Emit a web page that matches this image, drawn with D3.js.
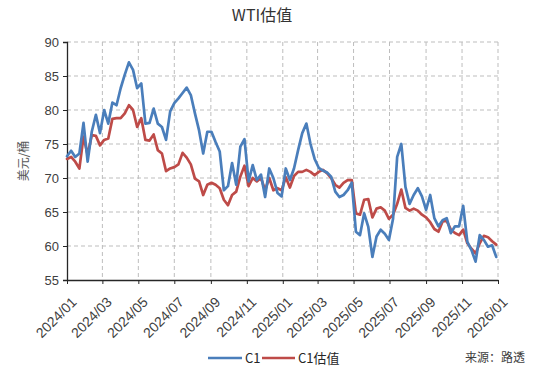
<!DOCTYPE html>
<html>
<head>
<meta charset="utf-8">
<script src="https://cdn.jsdelivr.net/npm/d3@7"></script>
<style>
  html, body { margin: 0; padding: 0; background: #fff; }
  svg { display: block; }
</style>
</head>
<body>
<svg id="chart" width="550" height="370"></svg>
<script>
// ---- data (weekly) ----
const startDate = "2024-01-01";
const c1 = [
  73.2, 74.0, 73.1, 73.6, 78.1, 72.4, 76.8, 79.3, 76.6, 80.0,
  78.0, 81.1, 80.7, 83.2, 85.2, 87.0, 85.9, 83.2, 83.9, 78.0,
  78.1, 80.2, 78.0, 77.5, 75.6, 79.8, 81.0, 81.7, 82.5, 83.3,
  82.2, 79.5, 77.0, 73.6, 76.8, 76.8, 75.3, 73.9, 68.2, 68.8,
  72.2, 69.0, 74.6, 75.7, 69.5, 71.9, 69.7, 70.5, 67.2, 71.4,
  70.0, 67.8, 67.3, 71.4, 69.7, 71.4, 74.1, 76.6, 78.0, 75.0,
  72.8, 71.5, 71.1, 70.8, 70.2, 68.0, 67.2, 67.5, 68.2, 69.3,
  62.1, 61.6, 64.8, 62.8, 58.4, 61.4, 62.4, 61.8, 60.9, 64.0,
  73.1, 75.0, 68.7, 66.2, 67.5, 68.5, 67.3, 65.3, 67.5, 64.1,
  62.9, 63.8, 64.1, 61.9, 62.9, 62.9, 65.9, 60.6, 59.4, 57.7,
  61.6, 60.9, 59.9, 60.1, 58.4
];
const c1Est = [
  72.8, 73.1, 72.4, 71.4, 76.1, 73.4, 76.3, 76.2, 74.8, 75.6,
  75.8, 78.7, 78.8, 78.8, 79.5, 80.7, 80.0, 77.5, 78.8, 75.6,
  75.5, 76.4, 74.1, 73.6, 71.0, 71.4, 71.6, 72.0, 73.7, 73.0,
  72.0, 69.9, 69.5, 67.5, 69.0, 69.3, 69.0, 68.5, 66.8, 66.0,
  67.5, 68.0, 70.2, 71.8, 68.8, 70.0, 69.5, 70.0, 68.2, 70.0,
  68.2, 68.5, 68.2, 70.1, 68.6, 70.3, 70.9, 70.9, 71.2, 70.9,
  70.4, 70.9, 71.2, 70.7, 70.0, 69.0, 68.6, 69.3, 69.7, 69.7,
  64.8, 64.6, 66.8, 66.9, 64.2, 65.5, 65.7, 65.2, 64.0, 64.6,
  66.2, 68.3, 65.6, 65.2, 65.5, 65.2, 64.6, 64.2, 63.5, 62.5,
  62.1, 63.6, 63.7, 62.4, 61.9, 61.6, 62.4, 60.4, 59.6, 58.9,
  60.4, 61.5, 61.3, 60.7, 60.2
];
const yTicks = [55, 60, 65, 70, 75, 80, 85, 90];
const xDomain = ["2024-01-01", "2026-01-01"];
const seriesNames = ["C1", "C1估值"];
const seriesColors = ["#4a7ebb", "#be4b48"];
const titleText = "WTI估值";
const yLabel = "美元/桶";
const sourceText = "来源：路透";

// ---- layout ----
const W = 550, H = 370;
const m = { left: 67, right: 52, top: 42, bottom: 90 };
const svg = d3.select("#chart");
const parse = d3.timeParse("%Y-%m-%d");
const t0 = parse(startDate);
const dates = c1.map((_, i) => d3.timeDay.offset(t0, 7 * i));

const x = d3.scaleTime()
  .domain(xDomain.map(parse))
  .range([m.left, W - m.right]);
const y = d3.scaleLinear()
  .domain([55, 90])
  .range([H - m.bottom, m.top]);

const xTickVals = d3.timeMonth.every(2).range(parse("2024-01-01"), d3.timeDay.offset(parse("2026-01-01"), 1));
const fmt = d3.timeFormat("%Y/%m");
const labelFont = "'Liberation Sans', Arial, sans-serif";
const cjkFont = "'Noto Sans CJK SC', 'Noto Sans', sans-serif";

// gridlines
const grid = svg.append("g");
grid.selectAll("line.h").data(yTicks.filter(v => v > 55)).enter().append("line")
  .attr("x1", m.left).attr("x2", W - m.right)
  .attr("y1", d => y(d)).attr("y2", d => y(d))
  .attr("stroke", "#bdbdbd").attr("stroke-width", 1).attr("stroke-dasharray", "4,3");
grid.selectAll("line.v").data(xTickVals.slice(1)).enter().append("line")
  .attr("x1", d => x(d)).attr("x2", d => x(d))
  .attr("y1", m.top).attr("y2", H - m.bottom)
  .attr("stroke", "#bdbdbd").attr("stroke-width", 1).attr("stroke-dasharray", "4,3");

// axes
const yAxis = svg.append("g")
  .attr("transform", `translate(${m.left},0)`)
  .call(d3.axisLeft(y).tickValues(yTicks).tickSize(4).tickPadding(4));
yAxis.select(".domain").attr("stroke", "#262626").attr("stroke-width", 1.3);
yAxis.selectAll(".tick line").attr("stroke", "#262626");
yAxis.selectAll(".tick text").attr("font-family", labelFont).attr("font-size", 13).attr("fill", "#404040");

const xAxis = svg.append("g")
  .attr("transform", `translate(0,${H - m.bottom})`)
  .call(d3.axisBottom(x).tickValues(xTickVals).tickFormat(fmt).tickSize(4).tickSizeOuter(0));
xAxis.select(".domain").attr("stroke", "#262626").attr("stroke-width", 1.3);
xAxis.selectAll(".tick line").attr("stroke", "#262626");
xAxis.selectAll(".tick text")
  .attr("font-family", labelFont).attr("font-size", 14).attr("fill", "#404040")
  .attr("text-anchor", "end")
  .attr("transform", "translate(6.5,19.5) rotate(-45)")
  .attr("dx", 0).attr("dy", "0.35em").attr("y", 0).attr("x", 0);

// lines
const series = [c1, c1Est];
const line = d3.line().x((d, i) => x(dates[i])).y(d => y(d));
svg.append("g").selectAll("path").data([1, 0]).enter().append("path")
  .attr("d", k => line(series[k]))
  .attr("fill", "none")
  .attr("stroke", k => seriesColors[k])
  .attr("stroke-width", 2.7)
  .attr("stroke-linejoin", "round")
  .attr("stroke-linecap", "round");

// title
svg.append("text").attr("x", 262).attr("y", 21).attr("text-anchor", "middle")
  .attr("font-family", cjkFont).attr("font-size", 16).attr("fill", "#333")
  .text(titleText);

// y label
svg.append("text").attr("transform", `translate(28,${(m.top + H - m.bottom) / 2}) rotate(-90)`)
  .attr("text-anchor", "middle")
  .attr("font-family", cjkFont).attr("font-size", 12).attr("fill", "#595959")
  .text(yLabel);

// legend
const legendY = 358;
const leg = [
  { x1: 208, x2: 242, tx: 245 },
  { x1: 262, x2: 295, tx: 298 }
];
leg.forEach((l, i) => {
  svg.append("line").attr("x1", l.x1).attr("x2", l.x2).attr("y1", legendY).attr("y2", legendY)
    .attr("stroke", seriesColors[i]).attr("stroke-width", 2.7);
  svg.append("text").attr("x", l.tx).attr("y", legendY).attr("dy", "0.35em")
    .attr("font-family", cjkFont).attr("font-size", 13).attr("fill", "#262626")
    .text(seriesNames[i]);
});

// source
svg.append("text").attr("x", 525).attr("y", legendY).attr("dy", "0.35em").attr("text-anchor", "end")
  .attr("font-family", cjkFont).attr("font-size", 12).attr("fill", "#404040")
  .text(sourceText);
</script>
</body>
</html>
